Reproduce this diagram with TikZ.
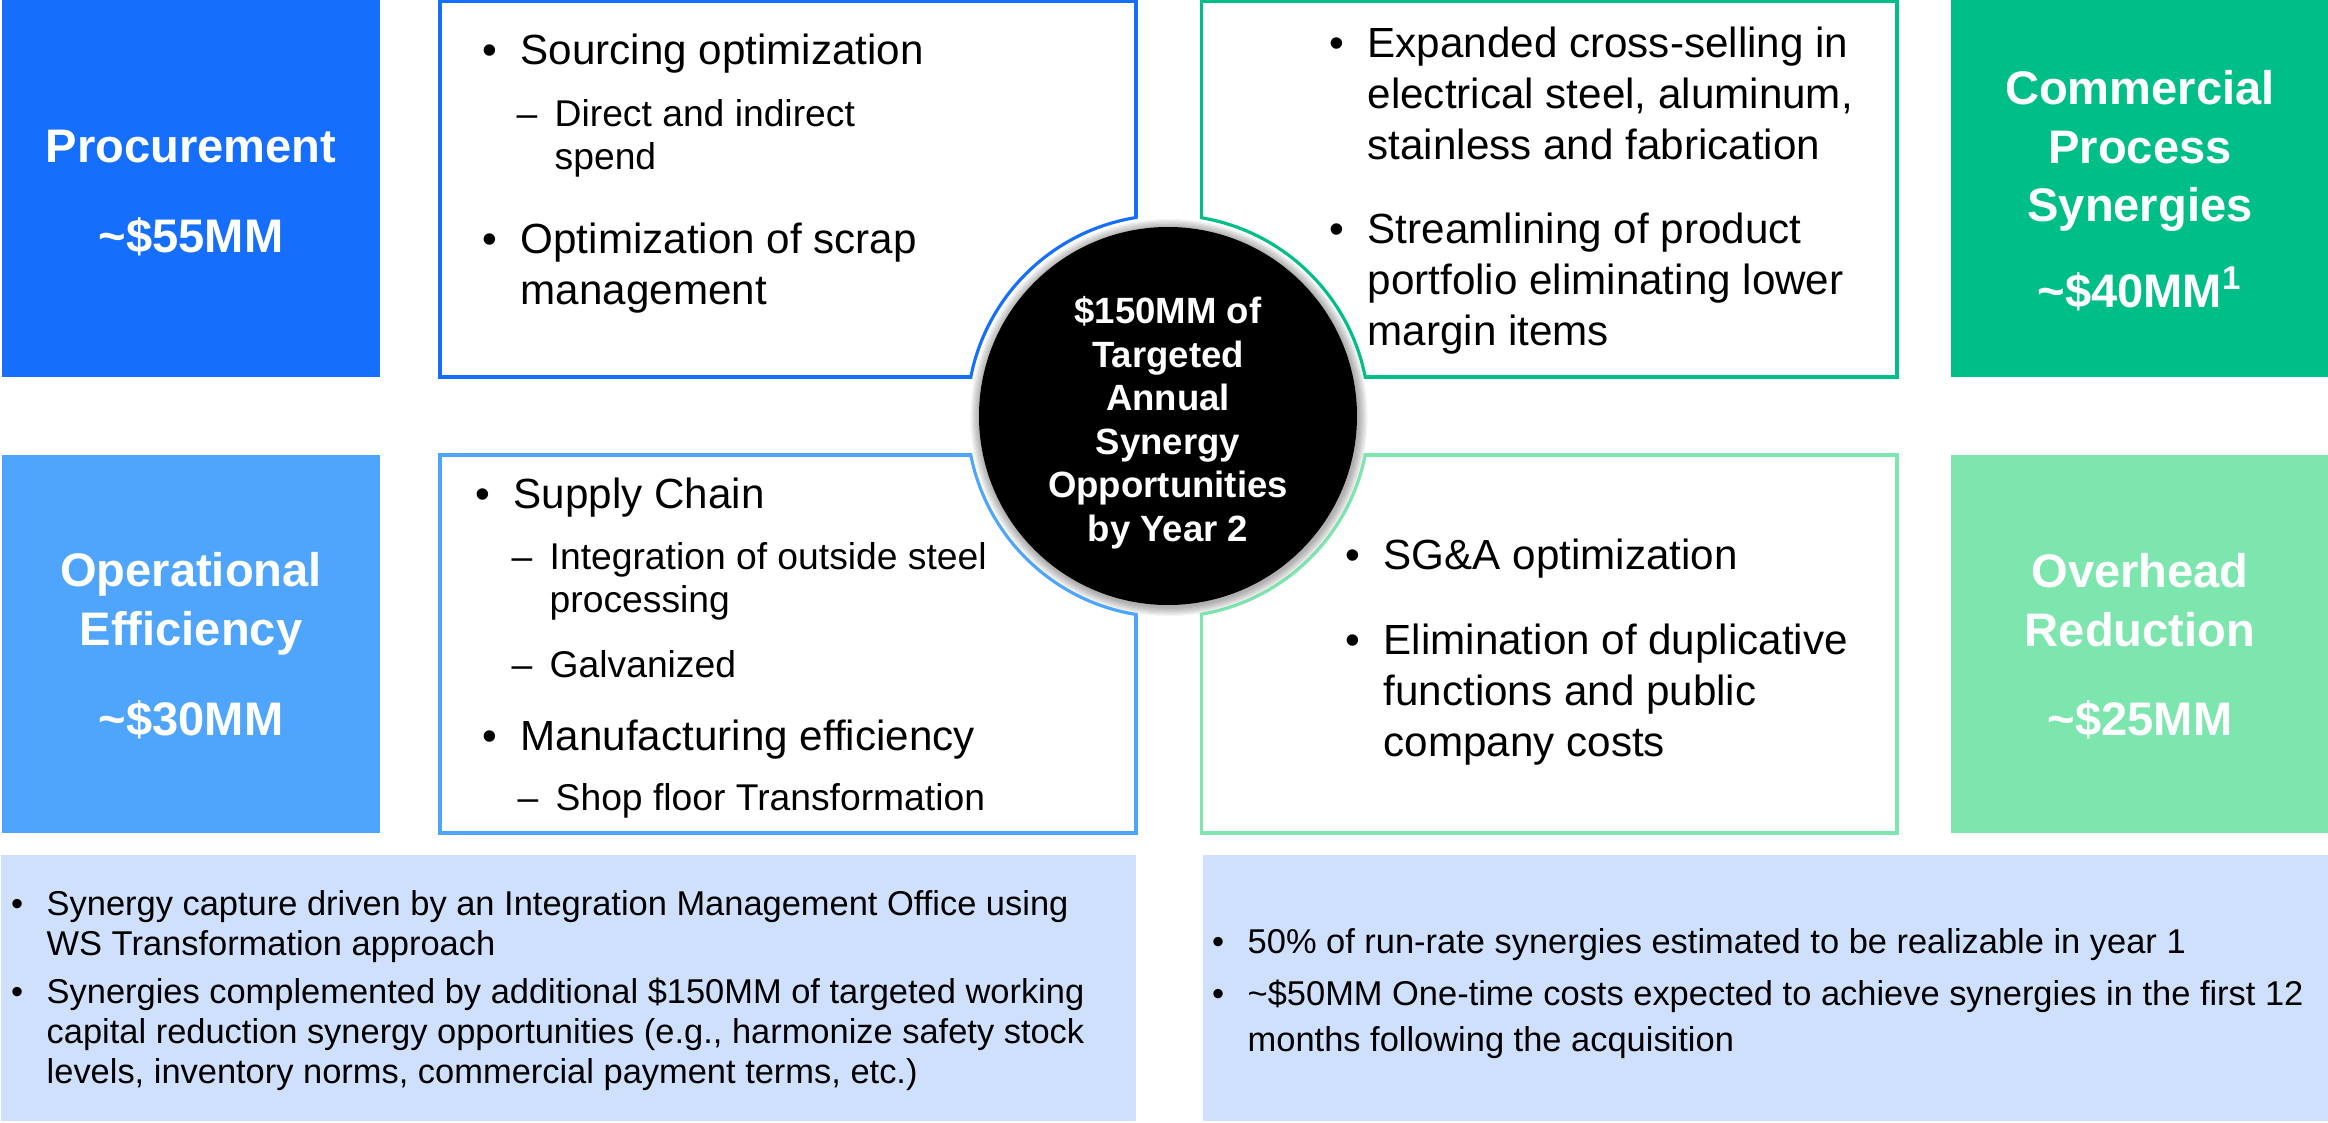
\documentclass[tikz,border=0pt]{standalone}
\usepackage{fontspec}
\setmainfont{Liberation Sans}
\usepackage{tikz}
\usetikzlibrary{positioning}
\definecolor{procblue}{RGB}{21,111,252}
\definecolor{opblue}{RGB}{79,165,252}
\definecolor{commgreen}{RGB}{0,190,136}
\definecolor{overgreen}{RGB}{125,230,175}
\definecolor{noteblue}{RGB}{207,224,252}
\newcommand{\amount}[1]{\textasciitilde\$#1MM}
% stacked lines hung from the first baseline
\newcommand{\leftlines}[1]{\begin{tabular}[t]{@{}l@{}}#1\end{tabular}}
\newcommand{\midlines}[1]{\begin{tabular}[t]{@{}c@{}}#1\end{tabular}}
% bullet and dash entries: style, name, x, y, text
\newcommand{\bulletpoint}[5]{
  \node[#1] (#2) at (#3,#4) {\leftlines{#5}};
  \node[#1, anchor=base east] (#2-mark) at ([xshift=-0.22cm]#2.base west) {\textbullet};
}
\newcommand{\dashpoint}[5]{
  \node[#1] (#2) at (#3,#4) {\leftlines{#5}};
  \node[#1, anchor=base east] (#2-mark) at ([xshift=-0.16cm]#2.base west) {\textendash};
}
\tikzset{
  tile/.style={fill=#1, minimum width=3.78cm, minimum height=3.77cm, inner sep=0pt},
  panel/.style={draw=#1, line width=0.9pt, fill=white, inner sep=0pt},
  tiletext/.style={text=white, font=\bfseries\fontsize{13.4}{16.6}\selectfont, inner sep=0pt, anchor=base},
  hubtext/.style={text=white, font=\bfseries\fontsize{10.4}{12.35}\selectfont, inner sep=0pt, anchor=base},
  itemtext/.style={font=\fontsize{12}{14.4}\selectfont, inner sep=0pt, anchor=base west},
  subtext/.style={font=\fontsize{10.6}{12.2}\selectfont, inner sep=0pt, anchor=base west},
  notetext/.style={font=\fontsize{9.8}{11.4}\selectfont, inner sep=0pt, anchor=base west},
  widenote/.style={notetext, font=\fontsize{9.8}{13.2}\selectfont},
}
\begin{document}
\begin{tikzpicture}
\useasboundingbox (0,0) rectangle (23.28,11.22);
\fill[white] (0,0) rectangle (23.28,11.22);
\coordinate (hubc) at (11.68,7.06);

% coloured tiles
\node[tile=procblue] (proc) at (1.91,9.335) {};
\node[tile=opblue] (oper) at (1.91,4.78) {};
\node[tile=commgreen] (comm) at (21.40,9.335) {};
\node[tile=overgreen] (over) at (21.40,4.78) {};

% white panels, notched round the hub
\node[panel=procblue, minimum width=6.96cm, minimum height=3.755cm] (procPanel) at (7.88,9.3275) {};
\node[panel=opblue, minimum width=6.96cm, minimum height=3.78cm] (operPanel) at (7.88,4.78) {};
\node[panel=commgreen, minimum width=6.955cm, minimum height=3.755cm] (commPanel) at (15.4925,9.3275) {};
\node[panel=overgreen, minimum width=6.955cm, minimum height=3.78cm] (overPanel) at (15.4925,4.78) {};
\fill[white] (hubc) circle (2.01);
\foreach \p/\c in {procPanel/procblue,operPanel/opblue,commPanel/commgreen,overPanel/overgreen}{
  \begin{scope}
    \clip (\p.south west) rectangle (\p.north east);
    \draw[\c, line width=0.9pt] (hubc) circle (2.01);
  \end{scope}
}

% hub with its shadow
\foreach \i in {1,...,8}{
  \fill[black, opacity=0.045] ([xshift=0.01cm, yshift=-0.015cm]hubc) circle ({1.89+0.012*\i});
}
\node[circle, fill=black, minimum size=3.78cm, inner sep=0pt] (hub) at (hubc) {};
\node[hubtext] (hubLabel) at (11.68,7.98) {\midlines{\$150MM of\\Targeted\\Annual\\Synergy\\Opportunities\\by Year 2}};

% tile labels
\node[tiletext] (procName) at (1.91,9.59) {Procurement};
\node[tiletext] (procAmt) at (1.91,8.69) {\amount{55}};
\node[tiletext] (operName) at (1.91,5.35) {\midlines{Operational\\Efficiency}};
\node[tiletext] (operAmt) at (1.91,3.87) {\amount{30}};
\node[tiletext] (commName) at (21.40,10.17) {\midlines{Commercial\\Process\\Synergies}};
\node[tiletext] (commAmt) at (21.40,8.14) {\amount{40}\textsuperscript{1}};
\node[tiletext] (overName) at (21.40,5.34) {\midlines{Overhead\\Reduction}};
\node[tiletext] (overAmt) at (21.40,3.86) {\amount{25}};

% procurement levers
\bulletpoint{itemtext}{sourcing}{5.20}{10.57}{Sourcing optimization}
\dashpoint{subtext}{spend}{5.54}{9.95}{Direct and indirect\\spend}
\bulletpoint{itemtext}{scrap}{5.20}{8.68}{Optimization of scrap\\management}

% operational levers
\bulletpoint{itemtext}{supply}{5.13}{6.14}{Supply Chain}
\dashpoint{subtext}{outside}{5.49}{5.52}{Integration of outside steel\\processing}
\dashpoint{subtext}{galv}{5.49}{4.45}{Galvanized}
\bulletpoint{itemtext}{manuf}{5.20}{3.72}{Manufacturing efficiency}
\dashpoint{subtext}{shop}{5.55}{3.12}{Shop floor Transformation}

% commercial levers
\bulletpoint{itemtext}{cross}{13.67}{10.64}{Expanded cross-selling in\\electrical steel, aluminum,\\stainless and fabrication}
\bulletpoint{itemtext}{stream}{13.67}{8.78}{Streamlining of product\\portfolio eliminating lower\\margin items}

% overhead levers
\bulletpoint{itemtext}{sga}{13.83}{5.52}{SG\&A optimization}
\bulletpoint{itemtext}{dupl}{13.83}{4.67}{Elimination of duplicative\\functions and public\\company costs}

% notes along the bottom
\node[fill=noteblue, minimum width=11.35cm, minimum height=2.66cm, inner sep=0pt, anchor=south west] (leftNote) at (0,0) {};
\node[fill=noteblue, minimum width=11.26cm, minimum height=2.66cm, inner sep=0pt, anchor=south west] (rightNote) at (12.02,0) {};
\bulletpoint{notetext}{imo}{0.46}{2.07}{Synergy capture driven by an Integration Management Office using\\WS Transformation approach}
\bulletpoint{notetext}{wc}{0.46}{1.19}{Synergies complemented by additional \$150MM of targeted working\\capital reduction synergy opportunities (e.g., harmonize safety stock\\levels, inventory norms, commercial payment terms, etc.)}
\bulletpoint{notetext}{runrate}{12.47}{1.69}{50\% of run-rate synergies estimated to be realizable in year 1}
\bulletpoint{widenote}{onetime}{12.47}{1.17}{\textasciitilde\$50MM One-time costs expected to achieve synergies in the first 12\\months following the acquisition}
\end{tikzpicture}
\end{document}
